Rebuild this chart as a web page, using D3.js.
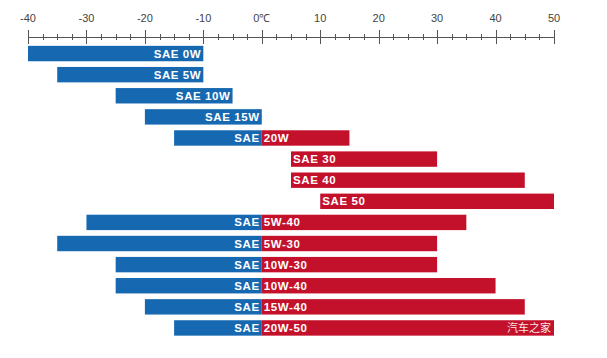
<!DOCTYPE html>
<html><head><meta charset="utf-8">
<script src="https://cdn.jsdelivr.net/npm/d3@7"></script>
<style>body{margin:0;background:#fff}svg{display:block}</style>
</head><body>
<svg id="c" width="607" height="358"></svg>
<script>
const grades = ["0W","5W","10W","15W","20W","30","40","50","5W-40","5W-30","10W-30","10W-40","15W-40","20W-50"];
const winterFrom = [-40,-35,-25,-20,-15,null,null,null,-30,-35,-25,-25,-20,-15];
const winterTo   = [-10,-10,-5,0,0,null,null,null,0,0,0,0,0,0];
const summerFrom = [null,null,null,null,0,5,5,10,0,0,0,0,0,0];
const summerTo   = [null,null,null,null,15,30,45,50,35,30,30,40,45,50];
const majorTicks = [-40,-30,-20,-10,0,10,20,30,40,50];
const tickLabels = ["-40","-30","-20","-10","0℃","10","20","30","40","50"];

const blue = "#1668b1", red = "#c4112b";
const svg = d3.select("#c");
const x = d3.scaleLinear().domain([-40,50]).range([28,554]);
const y = d3.scaleBand().domain(grades).range([43,338.5]).paddingInner(0.27).paddingOuter(0.135);

// axis
const axY = 37;
const ax = svg.append("g").attr("stroke","#555").attr("stroke-width",1);
ax.append("line").attr("x1",x(-40)).attr("x2",x(50)).attr("y1",axY+0.5).attr("y2",axY+0.5);
const minor = d3.range(-40,50.01,2.5).filter(v=>v%10!==0);
ax.selectAll("line.mn").data(minor).join("line").attr("class","mn")
  .attr("x1",d=>Math.round(x(d))+0.5).attr("x2",d=>Math.round(x(d))+0.5)
  .attr("y1",axY-3).attr("y2",axY+3);
ax.selectAll("line.mj").data(majorTicks).join("line").attr("class","mj")
  .attr("x1",d=>Math.round(x(d))+0.5).attr("x2",d=>Math.round(x(d))+0.5)
  .attr("y1",axY-7).attr("y2",axY+7);
svg.append("g").selectAll("text").data(majorTicks).join("text")
  .attr("x",d=>x(d)).attr("y",22).attr("text-anchor","middle")
  .attr("font-family","Liberation Sans, Arial, sans-serif").attr("font-size",11)
  .attr("fill","#444").text((d,i)=>tickLabels[i]);

// bars
const g = svg.append("g");
grades.forEach((gr,i)=>{
  const yy = y(gr), h = y.bandwidth();
  if (winterFrom[i]!==null) g.append("rect").attr("x",x(winterFrom[i])).attr("y",yy)
    .attr("width",x(winterTo[i])-x(winterFrom[i])).attr("height",h).attr("fill",blue);
  if (summerFrom[i]!==null) g.append("rect").attr("x",x(summerFrom[i])).attr("y",yy)
    .attr("width",x(summerTo[i])-x(summerFrom[i])).attr("height",h).attr("fill",red);
});
const tg = svg.append("g").attr("font-family","Liberation Sans, Arial, sans-serif")
  .attr("font-weight","bold").attr("font-size",11.5).attr("fill","#fff").attr("letter-spacing",0.6);
grades.forEach((gr,i)=>{
  const cy = y(gr)+y.bandwidth()/2+4;
  const hasW = winterFrom[i]!==null, hasS = summerFrom[i]!==null;
  if (hasW && hasS) {
    tg.append("text").attr("x",x(0)-2).attr("y",cy).attr("text-anchor","end").text("SAE");
    tg.append("text").attr("x",x(0)+2).attr("y",cy).text(gr);
  } else if (hasW) {
    tg.append("text").attr("x",x(winterTo[i])-2).attr("y",cy).attr("text-anchor","end").text("SAE " + gr);
  } else {
    tg.append("text").attr("x",x(summerFrom[i])+2).attr("y",cy).text("SAE " + gr);
  }
});
// watermark
svg.append("text").attr("x",551).attr("y",y("20W-50")+y.bandwidth()/2+4).attr("text-anchor","end")
  .attr("font-family","Noto Sans CJK SC, sans-serif").attr("font-size",11).attr("fill","#fff").attr("opacity",0.9)
  .text("汽车之家");
</script>
</body></html>
